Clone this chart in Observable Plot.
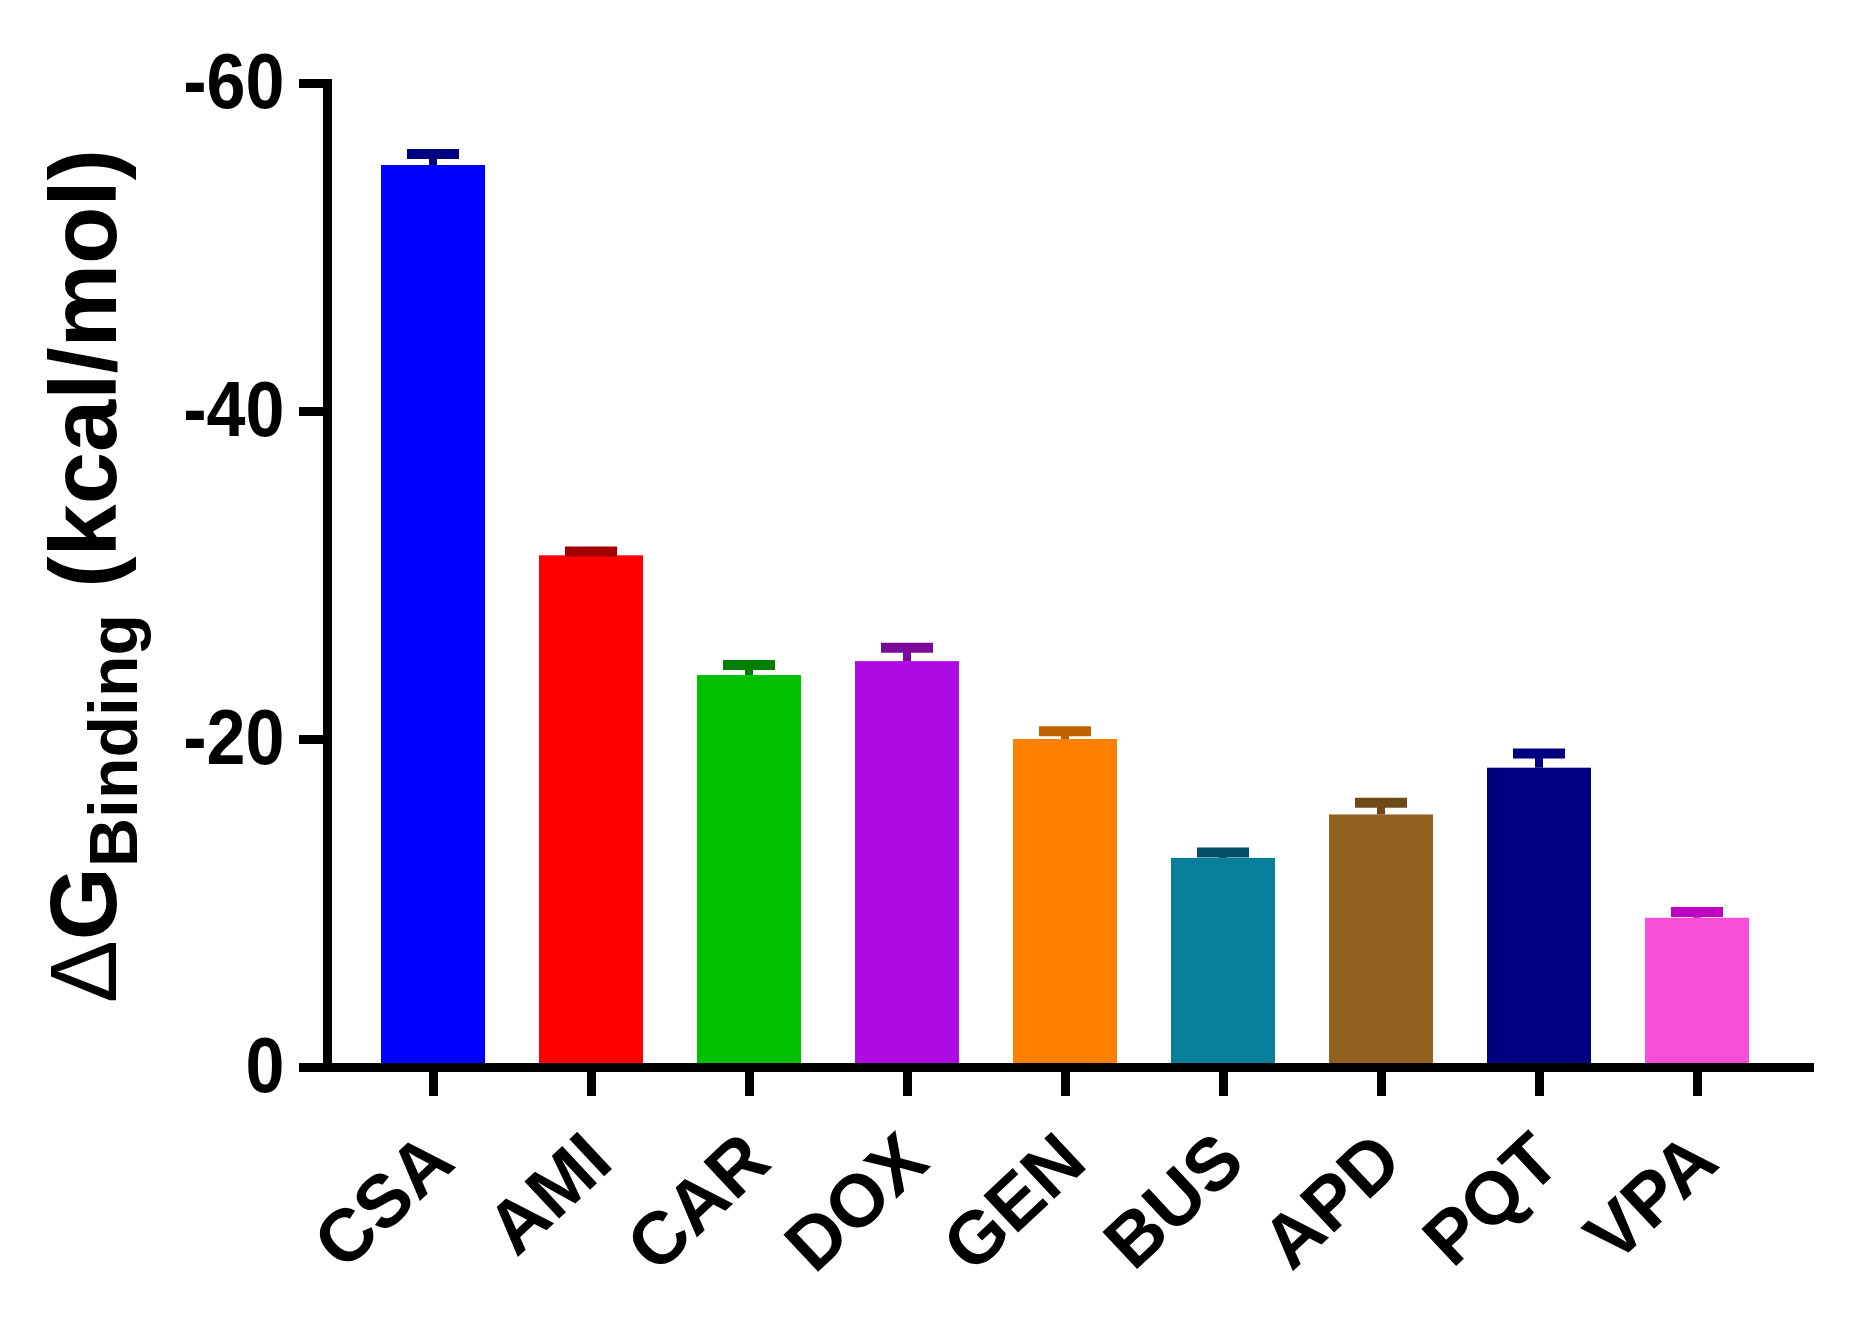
<!DOCTYPE html>
<html>
<head>
<meta charset="utf-8">
<script src="https://cdn.jsdelivr.net/npm/d3@7"></script>
<script src="https://cdn.jsdelivr.net/npm/@observablehq/plot@0.6"></script>
<style>
  html, body { margin: 0; padding: 0; background: #ffffff; }
  #chart { width: 1856px; height: 1332px; }
</style>
</head>
<body>
<div id="chart"></div>
<script>
// ---- data ----
const categories = ["CSA", "AMI", "CAR", "DOX", "GEN", "BUS", "APD", "PQT", "VPA"];
const values     = [-55.0, -31.2, -23.9, -24.75, -20.0, -12.75, -15.4, -18.25, -9.1];
const errors     = [0.7, 0.27, 0.65, 0.85, 0.5, 0.36, 0.75, 0.9, 0.38];
const barColors  = ["#0000ff", "#ff0000", "#00c000", "#ae0ae4", "#ff8000", "#077e9a", "#936220", "#000080", "#f84fd8"];
const capColors  = ["#000080", "#a00000", "#008000", "#7a0898", "#c06000", "#054f66", "#6e4a18", "#000080", "#c000c0"];
const yTicks     = [0, -20, -40, -60];

const rows = categories.map((c, i) => ({
  name: c,
  value: values[i],
  end: values[i] - errors[i],
  bar: barColors[i],
  cap: capColors[i]
}));

const FONT = "'Liberation Sans', Arial, Helvetica, sans-serif";

const chart = Plot.plot({
  width: 1856,
  height: 1332,
  marginLeft: 327,
  marginRight: 47,
  marginTop: 83,
  marginBottom: 265,
  style: { fontFamily: FONT, fontWeight: "bold", color: "black", background: "white" },
  x: { type: "band", domain: categories, range: [378.8, 1750.7], paddingInner: 0.3425, paddingOuter: 0, align: 0.5, label: null },
  y: { domain: [0, -60], label: null },
  marks: [
    Plot.barY(rows, { x: "name", y1: 0, y2: "value", fill: "bar" }),
    Plot.barY(rows, { x: "name", y1: "value", y2: "end", fill: "cap", insetLeft: 48, insetRight: 48 }),
    Plot.tickY(rows, { x: "name", y: "end", stroke: "cap", strokeWidth: 10, insetLeft: 26, insetRight: 26 }),
    Plot.frame({ anchor: "left", stroke: "black", strokeWidth: 9, strokeLinecap: "square" }),
    Plot.frame({ anchor: "bottom", stroke: "black", strokeWidth: 9, strokeLinecap: "square" }),
    Plot.axisY({ ticks: yTicks, tickFormat: d => String(d), tickSize: 28, tickPadding: 15,
                 strokeWidth: 9, fontSize: 77, fontWeight: "bold", label: null }),
    Plot.axisX({ tickSize: 29, strokeWidth: 9, tickFormat: null, label: null }),
    Plot.axisX({ tickSize: 0, tickPadding: 81, tickRotate: -43, textAnchor: "end", lineAnchor: "middle",
                 dx: 8, fontSize: 74, fontWeight: "bold", label: null })
  ]
});

document.getElementById("chart").appendChild(chart);

const svg = d3.select(chart);

// slightly condensed y tick labels, as in the reference
svg.selectAll('g[aria-label="y-axis tick label"] text').each(function () {
  const w = this.getComputedTextLength();
  this.setAttribute("textLength", (w * 0.91).toFixed(1));
  this.setAttribute("lengthAdjust", "spacingAndGlyphs");
});

// y-axis title with subscript
const lab = svg.append("text")
  .attr("transform", "translate(116,576) rotate(-90)")
  .attr("text-anchor", "middle")
  .attr("font-family", FONT)
  .attr("font-weight", "bold")
  .attr("font-size", 94)
  .attr("fill", "black")
  .style("white-space", "pre");
lab.append("tspan").attr("font-weight", "normal").text("Δ");
lab.append("tspan").text("G");
lab.append("tspan").attr("font-size", 68).attr("dy", 21).text("Binding");
lab.append("tspan").attr("dy", -21).text(" (kcal/mol)");
</script>
</body>
</html>
